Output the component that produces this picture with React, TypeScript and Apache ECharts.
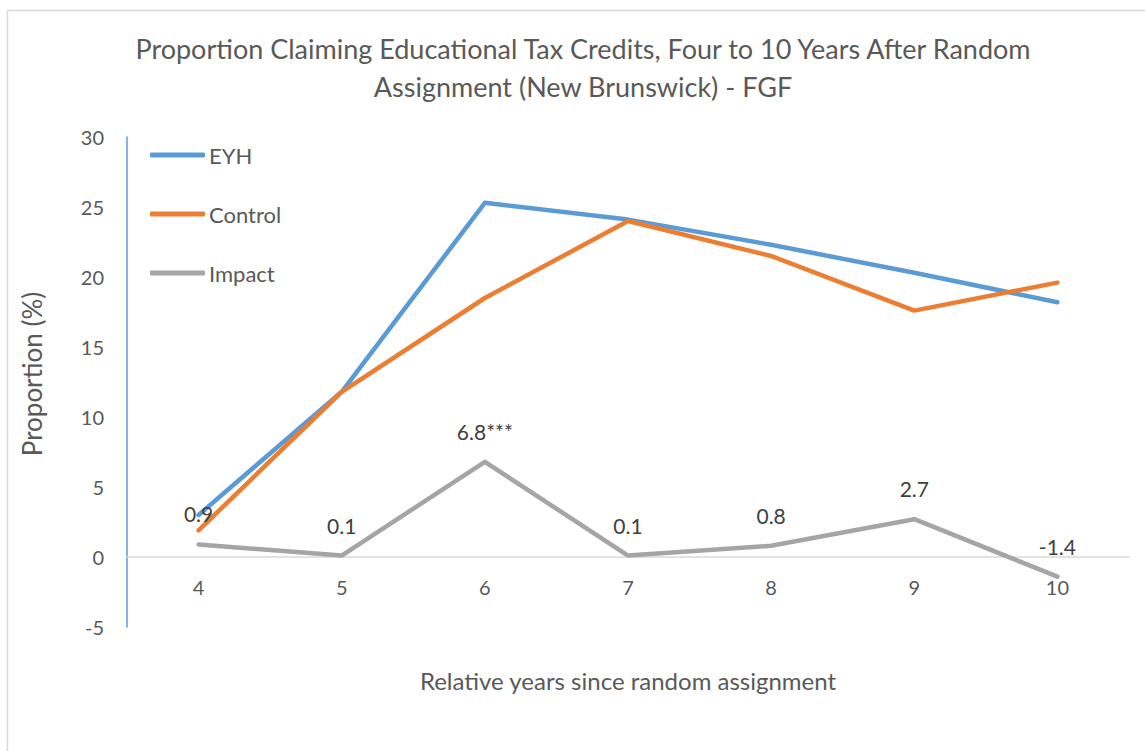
import React, { useEffect, useRef } from "react";
import * as echarts from "echarts";

const titleLines = [
  "Proportion Claiming Educational Tax Credits, Four to 10 Years After Random",
  "Assignment (New Brunswick) - FGF",
];
const years = ["4", "5", "6", "7", "8", "9", "10"];
const eyh = [3.0, 11.8, 25.3, 24.1, 22.3, 20.3, 18.2];
const control = [1.9, 11.8, 18.5, 24.0, 21.5, 17.6, 19.6];
const impact = [0.9, 0.1, 6.8, 0.1, 0.8, 2.7, -1.4];
const impactLabels = ["0.9", "0.1", "6.8***", "0.1", "0.8", "2.7", "-1.4"];
const yTitle = "Proportion (%)";
const xTitle = "Relative years since random assignment";

const FONT = "Lato, 'Open Sans', sans-serif";
const TXT = "#595959";

export default function App() {
  const ref = useRef<HTMLDivElement>(null);
  useEffect(() => {
    const chart = echarts.init(ref.current!, null, { renderer: "svg" });
    chart.setOption({
      animation: false,
      backgroundColor: "#ffffff",
      textStyle: { fontFamily: FONT },
      title: {
        text: titleLines.join("\n"),
        left: 583,
        top: 29,
        padding: 0,
        textAlign: "center",
        textStyle: { fontFamily: FONT, fontSize: 27, fontWeight: "normal", color: TXT, lineHeight: 38 },
      },
      legend: {
        orient: "vertical",
        left: 150,
        top: 143,
        padding: 0,
        itemWidth: 55,
        itemHeight: 5,
        itemGap: 35,
        data: [
          { name: "EYH", icon: "roundRect", itemStyle: { color: "#5b9bd5" } },
          { name: "Control", icon: "roundRect", itemStyle: { color: "#ed7d31" } },
          { name: "Impact", icon: "roundRect", itemStyle: { color: "#a5a5a5" } },
        ],
        textStyle: { fontFamily: FONT, fontSize: 22, color: TXT, padding: [0, 0, 0, -1], lineHeight: 24 },
      },
      grid: { left: 127, right: 16, top: 137, bottom: 124, containLabel: false },
      xAxis: {
        type: "category",
        data: years,
        boundaryGap: true,
        offset: -70,
        axisLine: { onZero: false, lineStyle: { color: "#d9d9d9", width: 1.5 } },
        axisTick: { show: false },
        axisLabel: { fontFamily: FONT, fontSize: 20, color: TXT, margin: 20 },
      },
      yAxis: {
        type: "value",
        min: -5,
        max: 30,
        interval: 5,
        splitLine: { show: false },
        axisLine: { show: true, onZero: false, lineStyle: { color: "#5b9bd5", width: 1.5 } },
        axisTick: { show: false },
        axisLabel: { fontFamily: FONT, fontSize: 20, color: TXT, margin: 23 },
      },
      graphic: [
        {
          type: "rect",
          shape: { x: 7.5, y: 10.5, width: 1200, height: 800 },
          style: { fill: "none", stroke: "#d9d9d9", lineWidth: 1.5 },
          silent: true,
        },
        {
          type: "text",
          x: 32,
          y: 374,
          rotation: Math.PI / 2,
          style: { text: yTitle, fontFamily: FONT, fontSize: 26, fill: TXT, align: "center", verticalAlign: "middle" },
        },
        {
          type: "text",
          x: 628,
          y: 680,
          style: { text: xTitle, fontFamily: FONT, fontSize: 24, fill: TXT, align: "center", verticalAlign: "middle" },
        },
      ],
      series: [
        {
          name: "EYH",
          type: "line",
          data: eyh,
          symbol: "none",
          lineStyle: { color: "#5b9bd5", width: 4.5, cap: "round", join: "round" },
          itemStyle: { color: "#5b9bd5" },
        },
        {
          name: "Control",
          type: "line",
          data: control,
          symbol: "none",
          lineStyle: { color: "#ed7d31", width: 4.5, cap: "round", join: "round" },
          itemStyle: { color: "#ed7d31" },
        },
        {
          name: "Impact",
          type: "line",
          data: impact,
          symbol: "circle",
          symbolSize: 0,
          showSymbol: true,
          lineStyle: { color: "#a5a5a5", width: 4.5, cap: "round", join: "round" },
          itemStyle: { color: "#a5a5a5" },
          label: {
            show: true,
            position: "top",
            distance: 20,
            fontFamily: FONT,
            fontSize: 21,
            color: "#404040",
            formatter: (p: any) => impactLabels[p.dataIndex],
          },
        },
      ],
    });
    return () => chart.dispose();
  }, []);
  return (
    <div
      ref={ref}
      style={{ position: "fixed", left: 0, top: 0, width: 1145, height: 751 }}
    />
  );
}
